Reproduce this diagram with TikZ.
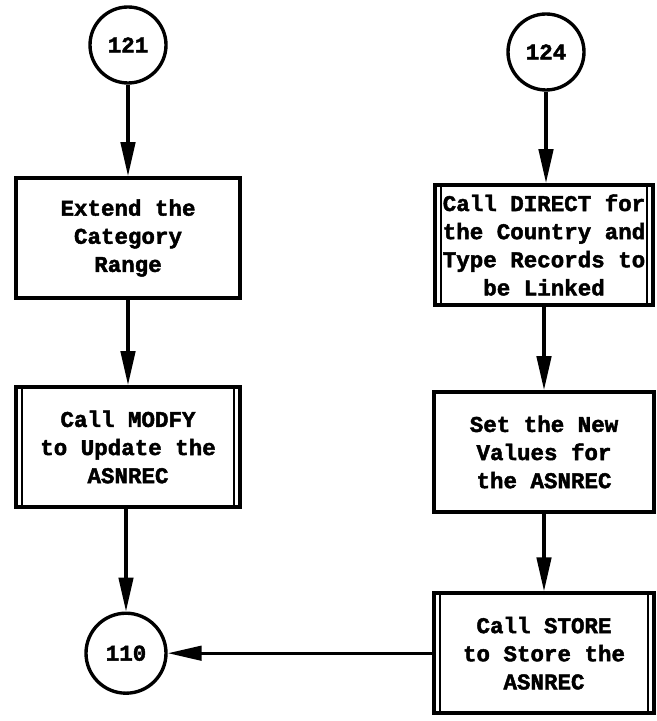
\documentclass[tikz,border=0pt]{standalone}
\usepackage{fontspec}
\setmonofont[BoldFeatures={FakeBold=2}]{Liberation Mono}
\usetikzlibrary{arrows.meta}
\begin{document}
\begin{tikzpicture}
		\tikzstyle{boite}=[minimum width=5.6cm, minimum height=3cm, draw, line width=2.6pt, align=center, inner sep=1pt, font=\ttfamily\bfseries\fontsize{16}{20}\selectfont]
		\tikzstyle{boite_double}=[boite, path picture={
			\draw[line width=1.6pt] ([xshift=4.5pt]path picture bounding box.south west) -- ([xshift=4.5pt]path picture bounding box.north west);
			\draw[line width=1.6pt] ([xshift=-4.5pt]path picture bounding box.south east) -- ([xshift=-4.5pt]path picture bounding box.north east);}]
		\tikzstyle{rond}=[circle, draw, line width=2.4pt, minimum size=1.9cm, inner sep=0pt, font=\ttfamily\bfseries\fontsize{16}{20}\selectfont]
		\tikzstyle{fleche}=[line width=2.4pt, -{Triangle[length=0.85cm, width=0.36cm]}]
		\useasboundingbox (0,0) rectangle (16.4,-18.025);
		\node[rond] (r121) at (3.2,-1.125) {121}; % gauche
		\node[boite] (extend) at (3.2,-5.95) {Extend the\\Category\\Range};
		\node[boite_double] (modfy) at (3.2,-11.175) {Call MODFY\\to Update the\\ASNREC};
		\node[rond, minimum size=2cm] (r110) at (3.15,-16.33) {110};
		\node[rond] (r124) at (13.65,-1.3) {124}; % droite
		\node[boite_double, minimum width=5.45cm] (direct) at (13.6,-6.125) {Call DIRECT for\\the Country and\\Type Records to\\be Linked};
		\node[boite, minimum width=5.5cm] (setnew) at (13.6,-11.3) {Set the New\\Values for\\the ASNREC};
		\node[boite_double, minimum width=5.5cm] (store) at (13.6,-16.33) {Call STORE\\to Store the\\ASNREC};
		\draw[fleche] (r121) -- (extend);
		\draw[fleche] (extend) -- (modfy);
		\draw[fleche] (modfy.south -| r110) -- (r110);
		\draw[fleche] (r124) -- (r124 |- direct.north);
		\draw[fleche] (direct.south -| setnew) -- (setnew);
		\draw[fleche] (setnew) -- (store);
		\draw[fleche] (store) -- (r110); % retour
	\end{tikzpicture}
\end{document}
